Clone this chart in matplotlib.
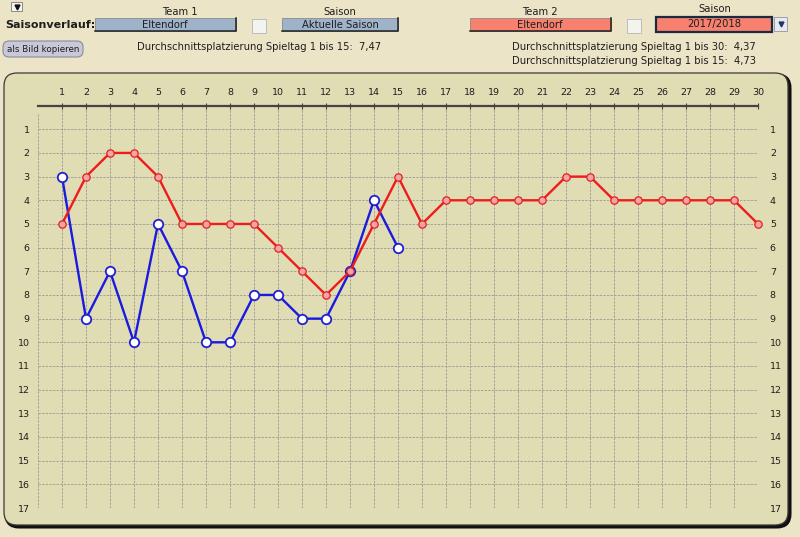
import matplotlib
matplotlib.use("Agg")
import matplotlib.pyplot as plt
from matplotlib.patches import FancyBboxPatch, Rectangle

# ---- data ----
matchdays = list(range(1, 31))
team2_ranks = [5, 3, 2, 2, 3, 5, 5, 5, 5, 6, 7, 8, 7, 5, 3,
               5, 4, 4, 4, 4, 4, 3, 3, 4, 4, 4, 4, 4, 4, 5]
team1_days = list(range(1, 16))
team1_ranks = [3, 9, 7, 10, 5, 7, 10, 10, 8, 8, 9, 9, 7, 4, 6]
rank_ticks = list(range(1, 18))
team1_name = "Eltendorf"
team2_name = "Eltendorf"
season1 = "Aktuelle Saison"
season2 = "2017/2018"
avg1_15 = "7,47"
avg2_30 = "4,37"
avg2_15 = "4,73"

W, H = 800, 537
FIG_BG = "#ECE4C7"
PANEL = "#E0DCB3"
TXT = "#1E1E1E"
GRID = "#A6A397"

fig = plt.figure(figsize=(W / 100, H / 100), dpi=100, facecolor=FIG_BG)
bg = fig.add_axes([0, 0, 1, 1])
bg.set_xlim(0, W)
bg.set_ylim(H, 0)
bg.axis("off")

# ---- panel ----
shadow = FancyBboxPatch((6, 75), 784, 452, boxstyle="round,pad=0,rounding_size=13",
                        fc="#111111", ec="#111111", lw=2.2, zorder=1)
bg.add_patch(shadow)
panel = FancyBboxPatch((4, 73), 784, 452, boxstyle="round,pad=0,rounding_size=13",
                       fc=PANEL, ec="#3A3A3A", lw=0.9, zorder=2)
bg.add_patch(panel)

# ---- header widgets ----
def box(x0, y0, x1, y1, fc, z=3):
    r = Rectangle((x0, y0), x1 - x0, y1 - y0, fc=fc, ec="#8A8A8A", lw=0.6, zorder=z)
    bg.add_patch(r)
    bg.plot([x0, x1, x1], [y1, y1, y0], color="#202020", lw=1.1, zorder=z + 1)

fs = 7.2
bg.add_patch(Rectangle((11, 2), 11, 9, fc="#F4F4F0", ec="#888888", lw=0.7, zorder=3))
bg.plot([16.5], [6.5], marker="v", ms=3.5, color="#111111", zorder=4)

bg.text(5, 25, "Saisonverlauf:", fontsize=8, fontweight="bold", color=TXT,
        ha="left", va="center", zorder=5)

bg.text(180, 12, "Team 1", fontsize=fs, color=TXT, ha="center", va="center", zorder=5)
box(95, 18, 236, 31, "#9EB2C9")
bg.text(165, 24.5, team1_name, fontsize=fs, color=TXT, ha="center", va="center", zorder=5)

bg.add_patch(Rectangle((252, 19), 14, 14, fc="#F3F3EF", ec="#BBBBBB", lw=0.7, zorder=3))

bg.text(340, 12, "Saison", fontsize=fs, color=TXT, ha="center", va="center", zorder=5)
box(282, 18, 398, 31, "#9EB2C9")
bg.text(340, 24.5, season1, fontsize=fs, color=TXT, ha="center", va="center", zorder=5)

btn = FancyBboxPatch((3, 41), 80, 16, boxstyle="round,pad=0,rounding_size=6",
                     fc="#C9C8D8", ec="#8A8A9A", lw=0.8, zorder=3)
bg.add_patch(btn)
bg.text(43, 49, "als Bild kopieren", fontsize=6.3, color=TXT, ha="center", va="center", zorder=5)

bg.text(137, 47, "Durchschnittsplatzierung Spieltag 1 bis 15:  " + avg1_15,
        fontsize=fs, color=TXT, ha="left", va="center", zorder=5)

bg.text(540, 12, "Team 2", fontsize=fs, color=TXT, ha="center", va="center", zorder=5)
box(470, 18, 611, 31, "#F8806F")
bg.text(540, 24.5, team2_name, fontsize=fs, color=TXT, ha="center", va="center", zorder=5)

bg.add_patch(Rectangle((627, 19), 14, 14, fc="#F3F3EF", ec="#BBBBBB", lw=0.7, zorder=3))

bg.text(715, 9, "Saison", fontsize=fs, color=TXT, ha="center", va="center", zorder=5)
bg.add_patch(Rectangle((656, 17), 116, 15, fc="#F8806F", ec="#1A2A40", lw=1.6, zorder=3))
bg.text(714, 24.5, season2, fontsize=fs, color=TXT, ha="center", va="center", zorder=5)
bg.add_patch(Rectangle((774, 17), 13, 14, fc="#E8E8EE", ec="#9AA0B0", lw=0.7, zorder=3))
bg.plot([780.5], [24], marker="v", ms=3.5, color="#223366", zorder=4)

bg.text(512, 47, "Durchschnittsplatzierung Spieltag 1 bis 30:  " + avg2_30,
        fontsize=fs, color=TXT, ha="left", va="center", zorder=5)
bg.text(512, 61, "Durchschnittsplatzierung Spieltag 1 bis 15:  " + avg2_15,
        fontsize=fs, color=TXT, ha="left", va="center", zorder=5)

# ---- main chart ----
left, right, top, bottom = 38, 758, 105.6, 508
ax = fig.add_axes([left / W, 1 - bottom / H, (right - left) / W, (bottom - top) / H])
ax.patch.set_alpha(0)
ax.set_xlim(0, 30)
ax.set_ylim(17, 0)
for s in ["left", "right", "bottom"]:
    ax.spines[s].set_visible(False)
ax.spines["top"].set_color("#444444")
ax.spines["top"].set_linewidth(1.6)

ax.set_xticks(matchdays)
ax.set_xticklabels([str(d) for d in matchdays])
ax.xaxis.tick_top()
ax.tick_params(axis="x", which="both", top=True, bottom=False, direction="inout",
               length=5, width=0.8, color="#444444", labelsize=6.8, labelcolor=TXT, pad=4)
ax.set_yticks(rank_ticks)
ax.set_yticklabels([str(r) for r in rank_ticks])
ax.tick_params(axis="y", left=False, right=False, length=0, labelleft=True,
               labelright=False, labelsize=6.8, labelcolor=TXT, pad=6)

axr = ax.twinx()
axr.set_ylim(17, 0)
axr.set_yticks(rank_ticks)
axr.set_yticklabels([str(r) for r in rank_ticks])
axr.tick_params(axis="y", length=0, labelsize=6.8, labelcolor=TXT, pad=8.5)
for s in axr.spines.values():
    s.set_visible(False)
axr.patch.set_alpha(0)

ax.grid(True, color=GRID, linestyle=(0, (2.5, 1.2)), linewidth=0.7)
ax.vlines(0, 0.35, 17, colors=GRID, linestyles=(0, (2.5, 1.2)), linewidth=0.7)

ax.plot(team1_days, team1_ranks, color="#1A1AE0", lw=1.7, marker="o", ms=6.8,
        mfc="white", mec="#2020D0", mew=1.3, zorder=3, clip_on=False)
ax.plot(matchdays, team2_ranks, color="#EE1C1C", lw=1.7, marker="o", ms=5.3,
        mfc="#F6A3A3", mec="#E02020", mew=0.9, zorder=4, clip_on=False)

fig.savefig("out.png", dpi=100, facecolor=FIG_BG)
